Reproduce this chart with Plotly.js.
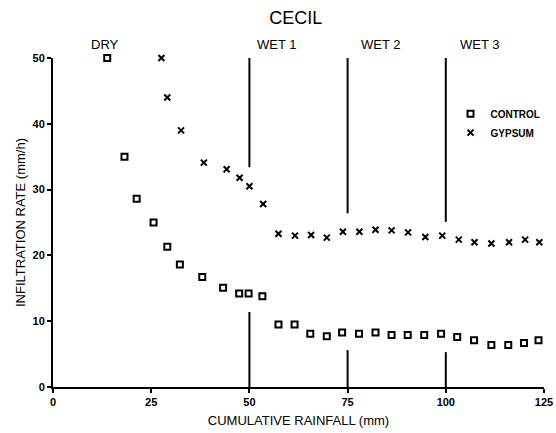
<!DOCTYPE html>
<html><head><meta charset="utf-8">
<script src="https://cdn.plot.ly/plotly-3.0.1.min.js"></script>
<style>body{margin:0;background:#fff}#c{width:556px;height:433px}</style>
</head><body><div id="c"></div>
<script>
const controlX = [13.8,18.2,21.3,25.6,29.1,32.3,38.0,43.3,47.4,49.8,53.3,57.4,61.5,65.5,69.7,73.6,77.9,82.1,86.2,90.3,94.5,98.8,102.9,107.2,111.6,115.9,119.9,123.6];
const controlY = [50.0,35.0,28.6,25.0,21.3,18.6,16.7,15.1,14.2,14.2,13.8,9.5,9.5,8.1,7.7,8.3,8.1,8.3,7.9,7.9,7.9,8.1,7.6,7.1,6.4,6.4,6.7,7.1];
const gypsumX = [27.6,29.1,32.6,38.4,44.2,47.5,50.0,53.5,57.4,61.6,65.7,69.7,73.8,78.0,82.1,86.2,90.4,94.8,99.1,103.3,107.3,111.6,116.1,120.2,123.8];
const gypsumY = [50.0,44.0,39.0,34.1,33.1,31.8,30.5,27.8,23.3,23.0,23.1,22.7,23.6,23.6,23.9,23.8,23.5,22.8,23.0,22.4,22.0,21.8,22.0,22.4,22.0];
const phaseX = [50,75,100];
const phaseUpperBottom = [33.4,26.4,25.1];
const phaseLowerTop = [11.4,5.6,5.3];
const phaseLabels = ['DRY','WET 1','WET 2','WET 3'];
const phaseLabelX = [13.3,51.3,77.9,103];
const xTicks = [0,25,50,75,100,125];
const yTicks = [0,10,20,30,40,50];

const FONT = 'Liberation Sans, Arial, sans-serif';
const shapes = [];
phaseX.forEach((x,i)=>{
  shapes.push({type:'line',xref:'x',yref:'y',x0:x,x1:x,y0:50,y1:phaseUpperBottom[i],line:{color:'#000',width:2}});
  shapes.push({type:'line',xref:'x',yref:'y',x0:x,x1:x,y0:0,y1:phaseLowerTop[i],line:{color:'#000',width:2}});
});
const annotations = phaseLabels.map((t,i)=>({
  text:t, x:phaseLabelX[i], y:1.04, xref:'x', yref:'paper', showarrow:false,
  xanchor: i===0?'center':'left', yanchor:'middle',
  font:{family:FONT, size:13, color:'#000'}
}));

const data = [
  {x:controlX,y:controlY,name:'<b>CONTROL</b>',mode:'markers',type:'scatter',cliponaxis:false,
   marker:{symbol:'square-open',size:6,color:'#000',line:{width:2,color:'#000'}}},
  {x:gypsumX,y:gypsumY,name:'<b>GYPSUM</b>',mode:'markers',type:'scatter',cliponaxis:false,
   marker:{symbol:'x-thin-open',size:6,color:'#000',line:{width:2,color:'#000'}}}
];
const layout = {
  width:556,height:433,paper_bgcolor:'#fff',plot_bgcolor:'#fff',
  margin:{l:53,r:11,t:58,b:46},
  title:{text:'CECIL',x:0.532,xanchor:'center',y:0.96,yanchor:'middle',font:{family:FONT,size:18,color:'#000'}},
  showlegend:true,
  legend:{x:0.808,y:0.875,xanchor:'left',yanchor:'top',bgcolor:'rgba(0,0,0,0)',
    font:{family:FONT,size:10,color:'#000'},itemwidth:30,tracegroupgap:0},
  xaxis:{range:[0,125],tickvals:xTicks,ticktext:xTicks.map(v=>'<b>'+v+'</b>'),showgrid:false,zeroline:false,
    showline:true,linecolor:'#000',linewidth:2,ticks:'outside',ticklen:4,tickwidth:2,tickcolor:'#000',
    tickfont:{family:FONT,size:11,color:'#000'},
    title:{text:'CUMULATIVE RAINFALL (mm)',standoff:9,font:{family:FONT,size:13,color:'#000'}}},
  yaxis:{range:[0,50],tickvals:yTicks,ticktext:yTicks.map(v=>'<b>'+v+'</b>'),showgrid:false,zeroline:false,
    showline:true,linecolor:'#000',linewidth:2,ticks:'outside',ticklen:4,tickwidth:2,tickcolor:'#000',
    tickfont:{family:FONT,size:11,color:'#000'},
    title:{text:'INFILTRATION RATE (mm/h)',standoff:4,font:{family:FONT,size:13,color:'#000'}}},
  shapes:shapes, annotations:annotations
};
Plotly.newPlot('c',data,layout,{displayModeBar:false,staticPlot:true});
</script></body></html>
